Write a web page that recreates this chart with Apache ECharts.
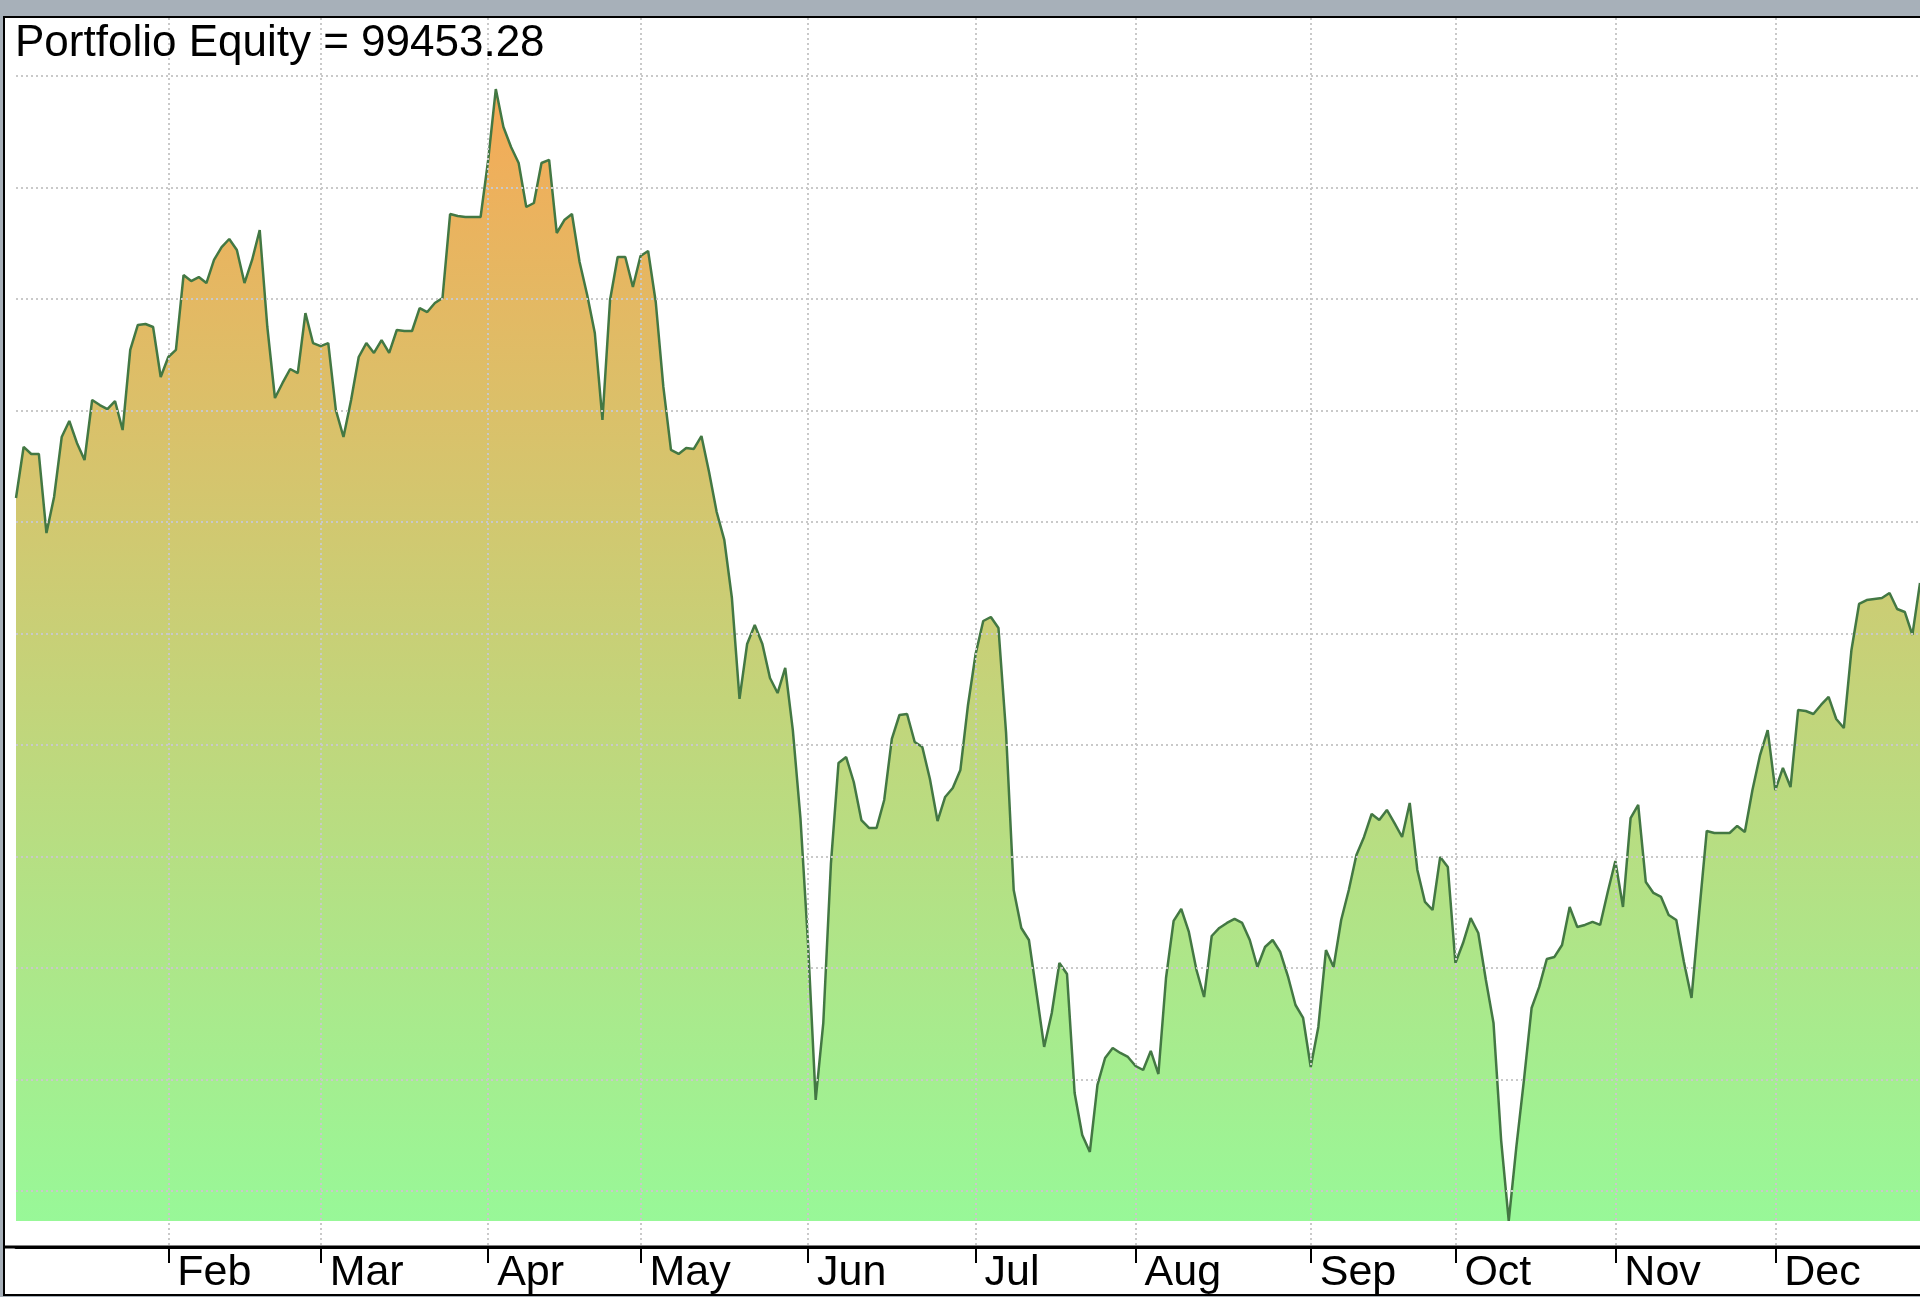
<!DOCTYPE html>
<html>
<head>
<meta charset="utf-8">
<script src="https://cdn.jsdelivr.net/npm/echarts@6/dist/echarts.min.js"></script>
<style>
html, body { margin: 0; padding: 0; background: #a7b0b9; }
#main { width: 1920px; height: 1297px; }
</style>
</head>
<body>
<div id="main"></div>
<script>
// month names and the trading-day index where each month starts
var monthNames = ['Jan', 'Feb', 'Mar', 'Apr', 'May', 'Jun', 'Jul', 'Aug', 'Sep', 'Oct', 'Nov', 'Dec'];
var monthStarts = [0, 20, 40, 62, 82, 104, 126, 147, 170, 189, 210, 231];

// daily portfolio equity
var equity = [
    100215, 100673, 100610, 100610, 99901, 100224, 100762, 100906, 100709, 100556,
    101094, 101049, 101013, 101085, 100825, 101543, 101767, 101776, 101749, 101300,
    101480, 101543, 102215, 102161, 102197, 102143, 102350, 102466, 102538, 102439,
    102143, 102350, 102619, 101749, 101112, 101247, 101372, 101336, 101874, 101605,
    101578, 101605, 101004, 100762, 101094, 101480, 101605, 101516, 101632, 101516,
    101722, 101713, 101713, 101919, 101883, 101964, 102009, 102762, 102744, 102735,
    102735, 102735, 103247, 103883, 103543, 103363, 103220, 102825, 102861, 103220,
    103247, 102592, 102708, 102762, 102332, 102036, 101695, 100915, 101991, 102377,
    102377, 102108, 102386, 102431, 101973, 101211, 100646, 100610, 100664, 100655,
    100771, 100448, 100090, 99839, 99318, 98413, 98906, 99076, 98906, 98601,
    98466, 98691, 98134, 97345, 96215, 94816, 95507, 96933, 97839, 97892,
    97668, 97327, 97256, 97256, 97507, 98054, 98269, 98278, 98027, 97982,
    97695, 97318, 97534, 97614, 97776, 98359, 98816, 99112, 99148, 99049,
    98108, 96700, 96359, 96251, 95776, 95292, 95596, 96045, 95946, 94879,
    94502, 94350, 94951, 95193, 95282, 95238, 95202, 95121, 95085, 95256,
    95049, 95910, 96422, 96529, 96323, 95982, 95740, 96287, 96359, 96404,
    96440, 96404, 96251, 96009, 96188, 96251, 96143, 95928, 95668, 95552,
    95112, 95471, 96161, 96009, 96430, 96700, 97013, 97175, 97381, 97327,
    97417, 97300, 97175, 97480, 96879, 96592, 96520, 96996, 96906, 96045,
    96224, 96448, 96314, 95892, 95507, 94457, 93731, 94395, 94996, 95641,
    95830, 96081, 96099, 96206, 96547, 96368, 96386, 96413, 96386, 96682,
    96960, 96547, 97345, 97462, 96771, 96673, 96637, 96475, 96430, 96054,
    95731, 96493, 97229, 97211, 97211, 97211, 97274, 97220, 97596, 97910,
    98134, 97596, 97794, 97623, 98314, 98305, 98278, 98359, 98431, 98233,
    98152, 98852, 99265, 99300, 99309, 99318, 99363, 99220, 99193, 98987,
    99453.28
];

// horizontal grid levels
var gridLevels = [94000, 95000, 96000, 97000, 98000, 99000, 100000, 101000, 102000, 103000, 104000];

var dayLabels = equity.map(function (v, i) {
    var m = 0;
    for (var k = 0; k < monthStarts.length; k++) {
        if (monthStarts[k] <= i) m = k;
    }
    return monthNames[m];
});

function isMonthStart(index) {
    return monthStarts.indexOf(index) > 0;
}

var lowest = Math.min.apply(null, equity);
var lastEquity = equity[equity.length - 1];
var font = "'Liberation Sans', Arial, sans-serif";
var gridLine = { color: '#c9c9c9', width: 2, type: [2, 3] };

var chart = echarts.init(document.getElementById('main'));

var option = {
    animation: false,
    backgroundColor: 'transparent',
    graphic: [{
        type: 'rect',
        z: 0,
        shape: { x: 4, y: 17, width: 1940, height: 1278 },
        style: { fill: '#ffffff', stroke: '#000000', lineWidth: 2 }
    }, {
        type: 'line',
        z: 0,
        shape: { x1: 4, y1: 1247, x2: 1920, y2: 1247 },
        style: { stroke: '#000000', lineWidth: 3 }
    }],
    title: {
        text: 'Portfolio Equity = ' + lastEquity.toFixed(2),
        left: 15,
        top: 22,
        padding: 0,
        textStyle: {
            fontFamily: font,
            fontSize: 44,
            fontWeight: 'normal',
            color: '#000'
        }
    },
    grid: {
        left: 16,
        right: 0,
        top: 18,
        bottom: 50
    },
    xAxis: {
        type: 'category',
        data: dayLabels,
        boundaryGap: false,
        z: 3,
        axisLine: { lineStyle: { color: '#000', width: 3 } },
        axisTick: {
            interval: isMonthStart,
            length: 16,
            lineStyle: { color: '#000', width: 2 }
        },
        axisLabel: {
            interval: isMonthStart,
            align: 'left',
            verticalAlign: 'top',
            margin: 5,
            padding: [0, 0, 0, 9],
            fontFamily: font,
            fontSize: 43,
            color: '#000'
        },
        splitLine: {
            show: true,
            interval: isMonthStart,
            lineStyle: gridLine
        }
    },
    yAxis: {
        type: 'value',
        min: 93497.6,
        max: 104520.2,
        z: 3,
        axisLine: { show: false },
        axisLabel: { show: false },
        axisTick: { show: false, customValues: gridLevels },
        splitLine: { show: true, lineStyle: gridLine }
    },
    series: [{
        name: 'Portfolio Equity',
        type: 'line',
        data: equity,
        symbol: 'none',
        z: 2,
        lineStyle: { color: '#437843', width: 2.5 },
        areaStyle: {
            origin: lowest,
            opacity: 1,
            color: new echarts.graphic.LinearGradient(0, 0, 0, 1, [
                { offset: 0, color: '#f5aa57' },
                { offset: 1, color: '#98f898' }
            ])
        }
    }]
};

chart.setOption(option);
</script>
</body>
</html>
